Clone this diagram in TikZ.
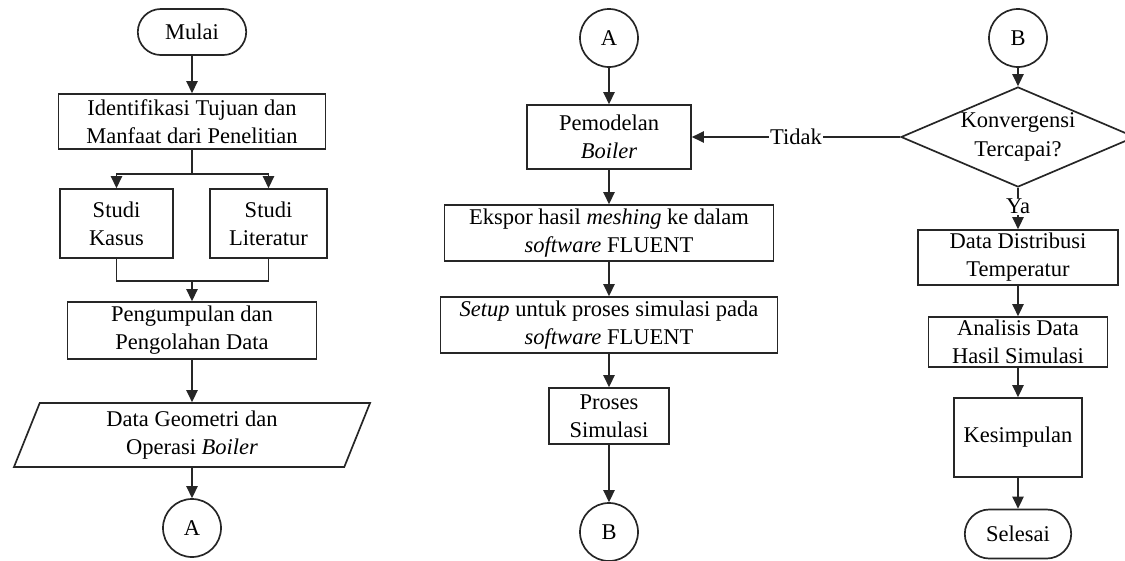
\documentclass[tikz,border=0pt]{standalone}
\usepackage{fontspec}
\setmainfont{Liberation Serif}
\usetikzlibrary{arrows.meta,shapes.geometric,shapes.misc}

\begin{document}
\begin{tikzpicture}[
    x=0.025cm, y=-0.025cm,
    every node/.style={font=\fontsize{16}{20}\selectfont, align=center,
        line width=1.2pt, draw=black!85},
    proc/.style={rectangle, inner sep=2pt},
    term/.style={rounded rectangle, inner sep=2pt},
    conn/.style={circle, minimum size=1.45cm, inner sep=0pt},
    data/.style={trapezium, trapezium left angle=66, trapezium right angle=114,
        trapezium stretches body, minimum width=8.9cm, minimum height=1.6cm},
    decision/.style={diamond, shape aspect=2.5, inner sep=0pt,
        minimum width=5.5cm, minimum height=2.5cm},
    lbl/.style={draw=none, fill=white, inner sep=0.5pt},
    arr/.style={-{Triangle[length=8.5pt, width=8pt]}, line width=1.2pt, draw=black!85},
    line/.style={line width=1.2pt, draw=black!85},
]
\useasboundingbox (0,0) rectangle (1125,560);

% Column 1: start and data
\node[term, minimum width=2.85cm, minimum height=1.15cm] (mulai) at (192, 32) {Mulai};
\node[proc, minimum width=6.675cm, minimum height=1.375cm] (tujuan) at (192, 121.5)
    {Identifikasi Tujuan dan\\ Manfaat dari Penelitian};
\node[proc, minimum width=2.825cm, minimum height=1.725cm] (kasus) at (116.5, 223.5)
    {Studi\\ Kasus};
\node[proc, minimum width=2.925cm, minimum height=1.725cm] (literatur) at (268.5, 223.5)
    {Studi\\ Literatur};
\node[proc, minimum width=6.225cm, minimum height=1.425cm] (pengumpulan) at (192, 330.5)
    {Pengumpulan dan\\ Pengolahan Data};
\node[data] (geometri) at (192, 435) {Data Geometri dan\\ Operasi \textit{Boiler}};
\node[conn] (conA1) at (192, 528) {A};
\coordinate (gabung) at (192, 281);

% Column 2: simulation
\node[conn] (conA2) at (609, 38) {A};
\node[proc, minimum width=4.1cm, minimum height=1.6cm] (pemodelan) at (609, 137)
    {Pemodelan\\ \textit{Boiler}};
\node[proc, minimum width=8.225cm, minimum height=1.4cm] (ekspor) at (609, 233)
    {Ekspor hasil \textit{meshing} ke dalam\\ \textit{software} FLUENT};
\node[proc, minimum width=8.425cm, minimum height=1.4cm] (setup) at (609, 325)
    {\textit{Setup} untuk proses simulasi pada\\ \textit{software} FLUENT};
\node[proc, minimum width=3.0cm, minimum height=1.4cm] (proses) at (609, 416)
    {Proses\\ Simulasi};
\node[conn] (conB1) at (609, 532) {B};

% Column 3: results
\node[conn] (conB2) at (1018, 38) {B};
\node[decision] (konvergensi) at (1018, 137) {Konvergensi\\ Tercapai?};
\node[proc, minimum width=5.0cm, minimum height=1.375cm] (distribusi) at (1018, 257.5)
    {Data Distribusi\\ Temperatur};
\node[proc, minimum width=4.475cm, minimum height=1.25cm] (analisis) at (1018, 342)
    {Analisis Data\\ Hasil Simulasi};
\node[proc, minimum width=3.2cm, minimum height=1.975cm] (kesimpulan) at (1018, 437.5)
    {Kesimpulan};
\node[term, minimum width=2.8cm, minimum height=1.225cm] (selesai) at (1018, 534)
    {Selesai};

% Arrows: column 1
\draw[arr] (mulai) -- (tujuan);
\draw[arr] (tujuan.south) -- ++(0, 24) -| (kasus.north);
\draw[arr] (tujuan.south) -- ++(0, 24) -| (literatur.north);
\draw[line] (kasus.south) |- (gabung) -| (literatur.south);
\draw[arr] (gabung) -- (pengumpulan);
\draw[arr] (pengumpulan) -- (geometri);
\draw[arr] (geometri) -- (conA1);

% Arrows: column 2
\draw[arr] (conA2) -- (pemodelan);
\draw[arr] (pemodelan) -- (ekspor);
\draw[arr] (ekspor) -- (setup);
\draw[arr] (setup) -- (proses);
\draw[arr] (proses) -- (conB1);

% Arrows: column 3 and loop back
\draw[arr] (conB2) -- (konvergensi);
\draw[arr] (konvergensi.west) -- node[lbl] {Tidak} (pemodelan.east);
\draw[arr] (konvergensi.south) -- node[lbl, pos=0.45] {Ya} (distribusi.north);
\draw[arr] (distribusi) -- (analisis);
\draw[arr] (analisis) -- (kesimpulan);
\draw[arr] (kesimpulan) -- (selesai);

\end{tikzpicture}
\end{document}
